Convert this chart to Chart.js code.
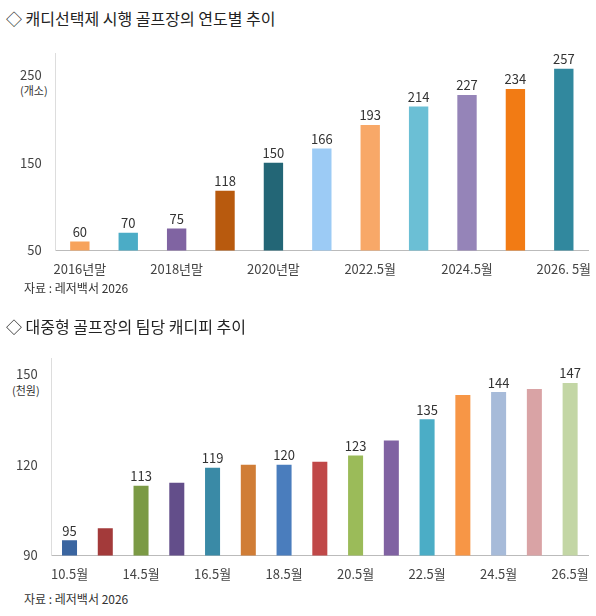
<!DOCTYPE html>
<html><head><meta charset="utf-8">
<script src="https://cdn.jsdelivr.net/npm/chart.js@4"></script>
<style>
body{margin:0;background:#fff;font-family:"Noto Sans CJK KR",sans-serif;color:#333}
.t{position:absolute;font-size:16px;color:#222}
.s{position:absolute;font-size:12px;color:#333}
.u{position:absolute;font-size:11px;color:#333}
.box{position:absolute;left:0;width:596px}
</style></head><body>
<div class="t" style="left:6px;top:6px">◇ 캐디선택제 시행 골프장의 연도별 추이</div>
<div class="u" style="left:20px;top:82px">(개소)</div>
<div class="box" style="top:40px;height:240px"><canvas id="c1"></canvas></div>
<div class="s" style="left:24px;top:279px">자료 : 레저백서 2026</div>
<div class="t" style="left:6px;top:314px">◇ 대중형 골프장의 팀당 캐디피 추이</div>
<div class="u" style="left:12px;top:382px">(천원)</div>
<div class="box" style="top:345px;height:240px"><canvas id="c2"></canvas></div>
<div class="s" style="left:24px;top:590px">자료 : 레저백서 2026</div>
<script>
const cats1=['2016년말','2017년말','2018년말','2019년말','2020년말','2021.5월','2022.5월','2023.5월','2024.5월','2025.5월','2026. 5월'];
const vals1=[60,70,75,118,150,166,193,214,227,234,257];
const labels1=[60,70,75,118,150,166,193,214,227,234,257];
const cols1=['#f7a35c','#4bacc6','#8064a2','#b85a0e','#236676','#9ccbf5','#f8a868','#6bbfd5','#9584b8','#f27b14','#31889e'];
const ticks1=[50,150,250];
const cats2=['10.5월','12.5월','14.5월','15.5월','16.5월','17.5월','18.5월','19.5월','20.5월','21.5월','22.5월','23.5월','24.5월','25.5월','26.5월'];
const vals2=[95,99,113,114,119,120,120,121,123,128,135,143,144,145,147];
const labels2=[95,null,113,null,119,null,120,null,123,null,135,null,144,null,147];
const cols2=['#3a65a0','#a33a3a','#7b9a45','#634e8a','#3a8aa6','#d07d36','#4a7dbd','#c04848','#9bbb59','#8062a2','#4badc6','#f79646','#a7bbd9','#d9a3a5','#c3d6a5'];
const ticks2=[90,120,150];
const font={family:'"Noto Sans CJK KR",sans-serif',size:13};
const lblPlugin={id:'lbl',afterDatasetsDraw(ch,a,o){const ctx=ch.ctx;const meta=ch.getDatasetMeta(0);ctx.save();ctx.font='13px "Noto Sans CJK KR",sans-serif';ctx.fillStyle='#333';ctx.textAlign='center';ctx.textBaseline='bottom';
meta.data.forEach((b,i)=>{const v=o.labels[i];if(v!=null)ctx.fillText(String(v),b.x,b.y-3);});ctx.restore();}};
function mk(id,cats,vals,cols,labels,ticks,min,max,pad,bp){
new Chart(document.getElementById(id),{type:'bar',data:{labels:cats,datasets:[{data:vals,backgroundColor:cols,barPercentage:bp,categoryPercentage:1}]},
options:{responsive:true,maintainAspectRatio:false,animation:false,layout:{padding:pad},
plugins:{legend:{display:false},tooltip:{enabled:false},lbl:{labels}},
scales:{x:{grid:{display:false},border:{color:'#bbb'},ticks:{autoSkip:false,maxRotation:0,color:'#444',font,callback:(v,i)=>i%2===0?cats[i]:''}},
y:{min,max,grid:{display:false},border:{color:'#ddd'},afterBuildTicks:ax=>{ax.ticks=ticks.map(v=>({value:v}));},ticks:{color:'#444',font,padding:6}}}},
plugins:[lblPlugin]});}
mk('c1',cats1,vals1,cols1,labels1,ticks1,50,274,{left:14,right:8,top:8},0.4);
mk('c2',cats2,vals2,cols2,labels2,ticks2,90,155,{left:10,right:8,top:6},0.42);
</script></body></html>
